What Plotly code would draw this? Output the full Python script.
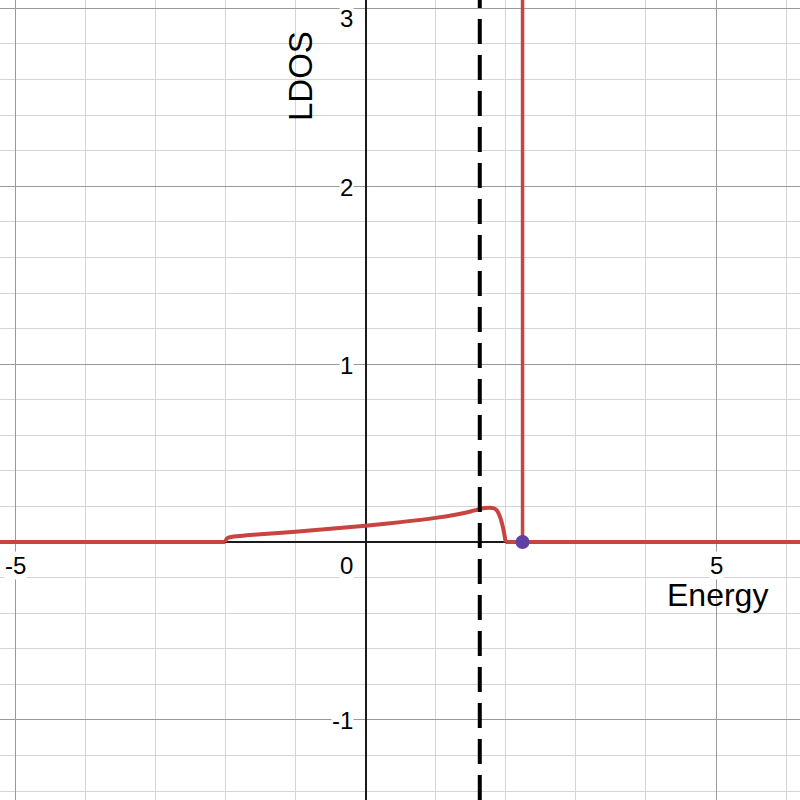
import plotly.graph_objects as go

# LDOS of the continuum band
energy_band = [-2.0, -1.99, -1.97, -1.9, -1.7, -1.5, -1.0, -0.5, 0.0, 0.5,
               1.0, 1.3, 1.5, 1.63, 1.7, 1.77, 1.83, 1.88, 1.92, 1.95, 1.98, 2.0]
ldos_band = [0.0, 0.012, 0.022, 0.03, 0.038, 0.044, 0.058, 0.075, 0.092, 0.112,
             0.136, 0.155, 0.172, 0.185, 0.191, 0.193, 0.19, 0.175, 0.14, 0.1, 0.045, 0.0]

band_bottom = -2.0
band_top = 2.0
fermi_energy = 1.63
bound_state_energy = 2.24

x_range = [-5.214, 6.198]
y_range = [-1.45, 3.047]

x_tick_labels = [-5, 5]
y_tick_labels = [-1, 1, 2, 3]

RED = "#c74440"
PURPLE = "#6042a6"
FONT = "Liberation Sans, Arial, sans-serif"
TICK_FONT = dict(size=24, color="black", family=FONT)

fig = go.Figure()

# zero LDOS outside the band
fig.add_trace(go.Scatter(x=[x_range[0] - 1, band_bottom], y=[0, 0], mode="lines",
                         line=dict(color=RED, width=4), hoverinfo="skip"))
fig.add_trace(go.Scatter(x=[band_top, x_range[1] + 1], y=[0, 0], mode="lines",
                         line=dict(color=RED, width=4), hoverinfo="skip"))

# band contribution
fig.add_trace(go.Scatter(x=energy_band, y=ldos_band, mode="lines",
                         line=dict(color=RED, width=4, shape="spline", smoothing=0.6)))

# bound state delta peak
fig.add_trace(go.Scatter(x=[bound_state_energy, bound_state_energy], y=[0, y_range[1] + 1],
                         mode="lines", line=dict(color=RED, width=3.5)))
fig.add_trace(go.Scatter(x=[bound_state_energy], y=[0], mode="markers",
                         marker=dict(color=PURPLE, size=14)))

# Fermi level
fig.add_shape(type="line", x0=fermi_energy, x1=fermi_energy, y0=0, y1=1,
              xref="x", yref="paper", line=dict(color="black", width=4, dash="25px,11px"))

annotations = []
for t in x_tick_labels:
    annotations.append(dict(x=t, y=0, text=str(t), showarrow=False,
                            yshift=-23, yanchor="middle", font=TICK_FONT,
                            bgcolor="white", borderpad=0))
for t in y_tick_labels:
    # the top label is kept inside the plot, as the reference does
    if t == max(y_tick_labels):
        anchor, shift = "top", 4
    else:
        anchor, shift = "middle", -1
    annotations.append(dict(x=0, y=t, text=str(t), showarrow=False, xanchor="right",
                            xshift=-12, yshift=shift, yanchor=anchor, font=TICK_FONT,
                            bgcolor="white", borderpad=0))
annotations.append(dict(x=0, y=0, text="0", showarrow=False, xanchor="right",
                        xshift=-12, yshift=-23, yanchor="middle", font=TICK_FONT,
                        bgcolor="white", borderpad=0))
annotations.append(dict(x=0.962, xref="paper", y=0, text="Energy", showarrow=False,
                        xanchor="right", yanchor="middle", yshift=-53,
                        font=dict(size=32, color="black", family=FONT)))
annotations.append(dict(x=0, y=1, yref="paper", text="LDOS", showarrow=False,
                        textangle=-90, xanchor="right", yanchor="top", xshift=-45, yshift=-29,
                        font=dict(size=33, color="black", family=FONT)))

axis_common = dict(showticklabels=False, ticks="", showline=False,
                   zeroline=True, zerolinecolor="#1a1a1a", zerolinewidth=2.2,
                   gridcolor="#9a9a9a", gridwidth=1.2)

fig.update_layout(
    width=800, height=800,
    margin=dict(l=0, r=0, t=0, b=0),
    paper_bgcolor="white", plot_bgcolor="white",
    showlegend=False,
    annotations=annotations,
    xaxis=dict(range=x_range, dtick=5, tick0=0,
               minor=dict(dtick=1, showgrid=True, gridcolor="#d4d4d4", gridwidth=1),
               **axis_common),
    yaxis=dict(range=y_range, dtick=1, tick0=0,
               minor=dict(dtick=0.2, showgrid=True, gridcolor="#d4d4d4", gridwidth=1),
               **axis_common),
)

# drop the page margin so the figure fills the window like the reference
fig.write_html("out.html", config={"displayModeBar": False},
               post_script="document.body.style.margin = '0px';")
